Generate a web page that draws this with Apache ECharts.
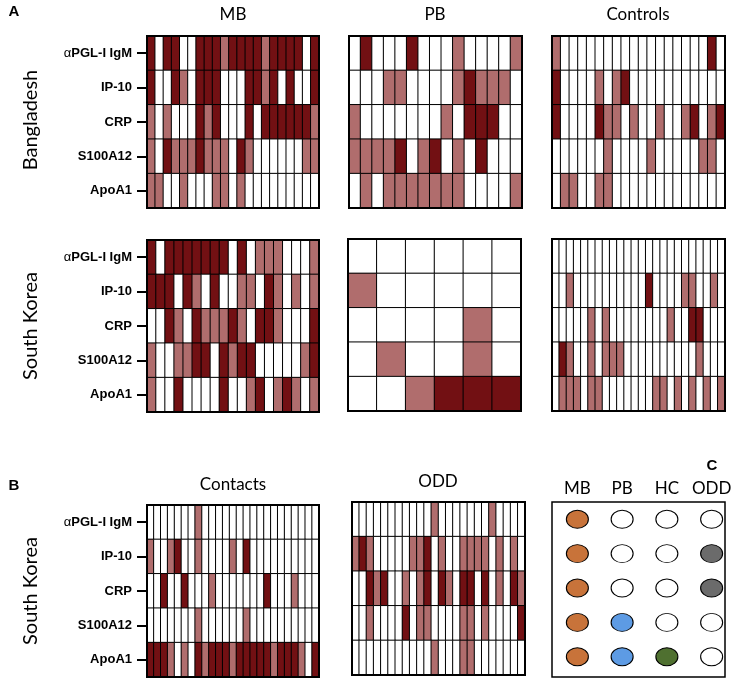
<!DOCTYPE html>
<html><head><meta charset="utf-8">
<script src="https://cdn.jsdelivr.net/npm/echarts@6/dist/echarts.min.js"></script>
<style>html,body{margin:0;padding:0;background:#fff}#c{width:736px;height:682px}</style>
</head><body><div id="c"></div>
<script>
// ---- data ----
const markers = ['αPGL-I IgM', 'IP-10', 'CRP', 'S100A12', 'ApoA1'];
// 0 = not elevated (white), 1 = moderate (light), 2 = high (dark)
const bdMB = [
  [2,0,2,2,0,0,2,2,2,1,2,2,2,2,1,2,2,2,2,0,2],
  [2,0,0,2,1,0,2,2,2,0,0,0,2,2,1,2,0,2,0,0,2],
  [1,0,1,0,0,0,2,1,2,0,0,0,2,0,2,2,2,2,2,2,1],
  [1,0,2,1,1,1,2,1,1,1,0,2,1,0,0,0,0,0,0,1,1],
  [1,1,0,0,1,0,0,0,1,1,0,1,0,0,0,0,0,0,0,0,0]
];
const bdPB = [
  [0,2,0,0,0,2,0,0,0,1,0,0,0,0,1],
  [0,0,0,1,1,0,0,0,0,1,2,1,1,1,0],
  [1,0,0,0,0,0,0,0,1,0,2,2,2,0,0],
  [1,1,1,1,2,0,1,2,0,1,0,2,0,0,0],
  [0,1,0,1,1,1,1,1,1,1,0,0,0,0,1]
];
const bdCtrl = [
  [1,0,0,0,0,0,0,0,0,0,0,0,0,0,0,0,0,0,2,0],
  [2,0,0,0,0,1,0,1,2,0,0,0,0,0,0,0,0,0,0,0],
  [2,0,0,0,0,2,1,1,0,1,0,0,1,0,0,1,2,0,1,2],
  [0,0,0,0,0,0,1,0,0,0,0,1,0,0,0,0,0,1,1,0],
  [0,1,1,0,0,1,1,0,0,0,0,0,0,0,0,0,0,0,0,0]
];
const skMB = [
  [2,0,2,2,2,2,2,2,2,0,2,0,1,1,1,0,0,0,1],
  [2,2,2,0,2,1,0,2,0,0,1,1,0,2,1,0,1,0,1],
  [0,0,2,1,0,2,1,1,1,2,1,0,2,2,1,0,0,0,2],
  [1,0,0,1,1,2,2,0,2,1,2,2,0,0,0,0,0,1,2],
  [1,0,0,2,0,0,0,0,2,0,0,1,2,0,1,2,1,0,1]
];
const skPB = [
  [0,0,0,0,0,0],
  [1,0,0,0,0,0],
  [0,0,0,0,1,0],
  [0,1,0,0,1,0],
  [0,0,1,2,2,2]
];
const skCtrl = [
  [0,0,0,0,0,0,0,0,0,0,0,0,0,0,0,0,0,0,0,0,0,0,0,0],
  [0,0,1,0,0,0,0,0,0,0,0,0,0,2,0,0,0,0,1,1,0,0,1,0],
  [0,0,0,0,0,1,0,1,0,0,0,0,0,0,0,0,1,0,0,2,2,0,0,0],
  [0,2,1,0,0,1,0,1,1,1,0,0,0,0,0,0,0,0,0,0,1,0,0,0],
  [0,1,1,1,0,1,1,0,0,0,0,0,0,0,1,1,0,1,0,1,0,1,0,1]
];
const skContacts = [
  [0,0,0,0,0,0,0,1,0,0,0,0,0,0,0,0,0,0,0,0,0,0,0,0,0],
  [1,0,0,1,2,0,0,1,0,0,0,0,1,0,2,0,0,0,0,0,0,0,0,0,0],
  [0,0,2,0,0,2,0,0,0,1,0,0,0,0,0,0,0,2,0,0,0,1,0,0,0],
  [0,0,0,0,0,0,0,1,0,0,0,0,0,0,1,0,0,0,0,0,0,0,0,0,0],
  [2,2,2,1,0,1,0,2,1,2,2,2,1,2,2,2,2,2,1,2,2,2,1,0,2]
];
const skODD = [
  [0,0,0,0,0,0,0,0,0,0,0,1,0,0,0,0,0,0,0,1,0,0,0,0],
  [1,2,1,0,0,0,0,0,1,1,2,0,1,0,0,1,1,1,1,0,1,0,1,0],
  [0,0,2,1,2,0,0,1,0,1,2,0,2,1,0,2,2,0,2,0,1,0,2,1],
  [0,0,1,0,0,0,0,2,0,1,1,0,0,0,0,1,1,0,1,0,0,0,0,2],
  [0,0,0,0,0,0,0,0,0,0,0,1,0,0,0,1,1,0,0,0,0,0,0,0]
];
// Panel C: which group shows the marker elevated
const cGroups = ['MB', 'PB', 'HC', 'ODD'];
const cStatus = [
  ['MB', '', '', ''],
  ['MB', '', '', 'ODD'],
  ['MB', '', '', 'ODD'],
  ['MB', 'PB', '', ''],
  ['MB', 'PB', 'HC', '']
];

// ---- styles ----
const groupColor = { MB: '#c8733a', PB: '#5d9be4', HC: '#4f7030', ODD: '#6b6b6b', '': '#ffffff' };
const LIGHT = '#b06d6d', DARK = '#721013';
const labelFont = 'Liberation Sans';
const titleFont = 'Lato';

const panels = [
  { data: bdMB,       left: 147, top: 36,  width: 172, height: 172, labels: true },
  { data: bdPB,       left: 349, top: 36,  width: 173, height: 172, labels: false },
  { data: bdCtrl,     left: 552, top: 36,  width: 173, height: 172, labels: false },
  { data: skMB,       left: 147, top: 240, width: 172, height: 172, labels: true },
  { data: skPB,       left: 348, top: 239, width: 173, height: 172, labels: false },
  { data: skCtrl,     left: 552, top: 239, width: 173, height: 172, labels: false },
  { data: skContacts, left: 147, top: 505, width: 172, height: 172, labels: true },
  { data: skODD,      left: 352, top: 502, width: 173, height: 173, labels: false }
];

const grid = [], xAxis = [], yAxis = [], series = [];
panels.forEach((p, i) => {
  grid.push({ left: p.left, top: p.top, width: p.width, height: p.height,
    show: true, borderColor: '#000', borderWidth: 2, backgroundColor: 'transparent', z: 10 });
  xAxis.push({ type: 'category', gridIndex: i, data: p.data[0].map((_, k) => String(k + 1)),
    axisLine: { show: false }, axisTick: { show: false }, axisLabel: { show: false }, splitLine: { show: false } });
  yAxis.push({ type: 'category', gridIndex: i, data: markers, inverse: true,
    axisLine: { show: false }, splitLine: { show: false },
    axisTick: { show: p.labels, alignWithLabel: true, length: 10, lineStyle: { color: '#000', width: 2 } },
    axisLabel: { show: p.labels, interval: 0, margin: 15, color: '#000', fontFamily: labelFont, fontWeight: 'bold', fontSize: 13,
      formatter: v => v.startsWith('α') ? '{a|α}' + v.slice(1) : v,
      rich: { a: { fontFamily: labelFont, fontWeight: 'normal', fontSize: 13, color: '#000' } } } });
  const d = [];
  p.data.forEach((row, r) => row.forEach((v, c) => d.push([c, r, v])));
  series.push({ type: 'heatmap', xAxisIndex: i, yAxisIndex: i, data: d, silent: true,
    itemStyle: { borderColor: '#000', borderWidth: 1 }, emphasis: { disabled: true }, progressive: 0 });
});

// Panel C grid
const ci = panels.length;
grid.push({ left: 555, top: 502, width: 179, height: 172, show: false });
xAxis.push({ type: 'category', gridIndex: ci, data: cGroups, position: 'top',
  axisLine: { show: false }, axisTick: { show: false }, splitLine: { show: false },
  axisLabel: { show: true, interval: 0, margin: 5, color: '#000', fontFamily: titleFont, fontSize: 17 } });
yAxis.push({ type: 'category', gridIndex: ci, data: markers, inverse: true,
  axisLine: { show: false }, axisTick: { show: false }, axisLabel: { show: false }, splitLine: { show: false } });
const cData = [];
cStatus.forEach((row, r) => row.forEach((g, c) => cData.push({ value: [c, r], itemStyle: { color: groupColor[g] } })));
series.push({ type: 'scatter', xAxisIndex: ci, yAxisIndex: ci, data: cData, symbol: 'circle', symbolSize: [22, 18],
  silent: true, itemStyle: { borderColor: '#000', borderWidth: 1, opacity: 1 } });

const txt = (text, x, y, size, opts = {}) => ({ type: 'text', x, y, rotation: opts.rot || 0, silent: true,
  style: { text, fontSize: size, fontFamily: opts.font || titleFont, fontWeight: opts.bold ? 'bold' : 'normal',
    fill: '#000', textAlign: 'center', textVerticalAlign: 'middle' } });

const graphic = [
  txt('A', 14, 12, 15, { bold: true, font: labelFont }),
  txt('B', 14, 486, 15, { bold: true, font: labelFont }),
  txt('C', 712, 466, 15, { bold: true, font: labelFont }),
  txt('MB', 233, 15, 17), txt('PB', 435, 15, 17), txt('Controls', 638, 15, 17),
  txt('Contacts', 233, 485, 17), txt('ODD', 438, 482, 17),
  txt('Bangladesh', 31, 120, 20, { rot: Math.PI / 2 }),
  txt('South Korea', 31, 326, 20, { rot: Math.PI / 2 }),
  txt('South Korea', 31, 591, 20, { rot: Math.PI / 2 }),
  { type: 'rect', shape: { x: 552, y: 502, width: 173, height: 175 }, silent: true,
    style: { fill: 'none', stroke: '#000', lineWidth: 1.5 } }
];

const chart = echarts.init(document.getElementById('c'), null, { renderer: 'canvas' });
chart.setOption({
  animation: false,
  backgroundColor: '#fff',
  grid, xAxis, yAxis, series, graphic,
  visualMap: { type: 'piecewise', show: false, dimension: 2, seriesIndex: panels.map((_, i) => i),
    pieces: [{ value: 0, color: '#ffffff' }, { value: 1, color: LIGHT }, { value: 2, color: DARK }] }
});
</script></body></html>
